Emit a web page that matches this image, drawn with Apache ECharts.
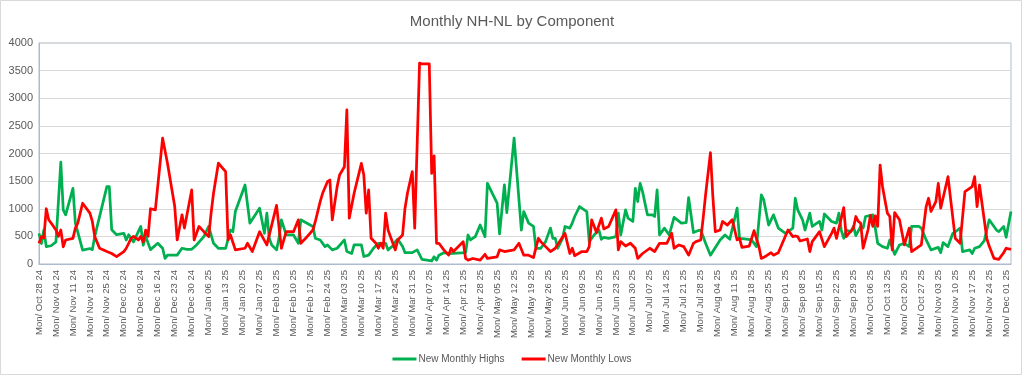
<!DOCTYPE html>
<html>
<head>
<meta charset="utf-8">
<script src="https://cdn.jsdelivr.net/npm/echarts@6/dist/echarts.min.js"></script>
<style>
html,body{margin:0;padding:0;background:#fff;}
#chart{width:1024px;height:376px;}
</style>
</head>
<body>
<div id="chart"></div>
<script>
// Calendar: every day from Mon Oct 28 2024 to Wed Dec 03 2025 (date axis, weekly Monday labels)
var startDate = [2024, 9, 28];
var dayCount = 402;
var yTicks = [0, 500, 1000, 1500, 2000, 2500, 3000, 3500, 4000];

// New Monthly Highs: day index (days since 2024-10-28) and value
var highDay = [0,1,2,3,5,7,9,10,11,14,15,18,21,22,23,28,29,30,32,35,36,37,39,42,43,44,46,49,51,52,53,57,59,61,63,65,68,70,72,74,77,79,80,81,85,87,91,93,94,95,96,98,99,100,102,105,107,108,110,113,114,116,118,119,121,123,126,127,129,130,133,134,136,138,140,143,144,146,147,148,150,151,154,156,158,160,162,163,164,165,167,169,176,177,178,180,182,184,185,189,190,192,193,196,199,200,202,204,205,207,209,211,212,213,214,216,217,219,220,221,223,226,227,229,231,232,233,235,238,239,240,242,243,245,246,247,248,249,251,253,254,255,256,258,260,262,265,267,268,270,272,273,275,277,281,283,285,288,289,291,294,296,298,299,301,303,305,307,308,311,312,313,315,316,318,319,322,323,324,327,329,330,331,332,333,335,336,337,339,340,341,344,345,346,348,350,351,353,355,357,359,360,363,364,366,368,371,372,373,375,377,379,380,381,384,385,386,388,390,392,395,396,398,399,401];
var highValue = [555,370,615,315,330,400,1842,980,890,1370,740,250,280,260,500,1400,1400,620,530,555,435,530,400,680,340,500,260,375,285,100,160,160,285,265,265,345,495,680,375,285,285,615,585,950,1430,740,1010,555,920,465,345,255,465,800,525,525,375,800,750,680,465,435,315,345,255,285,435,225,190,345,345,135,160,285,375,375,255,330,405,450,315,205,205,255,85,70,55,130,70,160,205,190,205,525,435,495,705,495,1460,1100,545,1430,930,2277,615,950,740,680,285,285,405,650,465,465,285,465,680,650,740,860,1040,950,405,525,615,447,483,465,495,920,525,980,830,770,1370,1130,1460,1310,890,890,860,1340,525,650,525,845,740,750,1200,570,605,615,375,160,435,525,447,1010,465,453,435,315,1250,1160,705,890,650,585,555,650,1190,980,800,615,920,680,770,615,905,770,740,920,605,465,615,585,680,513,680,650,860,890,650,375,315,285,435,175,345,375,315,680,680,650,435,255,300,205,387,315,555,615,650,225,255,190,285,315,423,800,615,585,680,483,950];

// New Monthly Lows: day index and value
var lowDay = [0,1,2,3,4,6,7,8,9,10,11,14,15,16,18,21,22,23,25,28,30,32,35,36,38,39,41,42,43,44,45,46,48,51,53,56,57,59,60,63,64,66,68,70,71,72,74,77,78,79,81,85,86,88,91,94,98,100,102,105,107,108,110,113,114,116,117,119,120,121,123,124,126,127,128,130,133,134,135,136,137,139,140,141,142,143,144,147,148,150,151,152,154,155,157,158,161,162,163,164,165,167,169,170,171,175,176,177,179,182,184,185,189,190,192,196,198,200,202,204,206,207,209,211,213,217,219,220,221,224,226,227,228,230,232,233,235,238,239,240,242,244,246,247,249,252,254,256,259,261,262,264,266,268,270,271,273,274,275,277,278,279,281,282,284,286,288,289,290,293,295,297,298,300,302,303,305,309,311,312,313,314,317,318,319,322,324,327,328,329,332,333,336,337,338,339,340,342,343,344,345,346,347,348,350,351,352,353,355,357,359,360,364,366,367,368,370,371,372,375,378,380,382,385,386,387,388,391,392,394,396,398,399,401];
var lowValue = [375,495,470,1000,800,680,615,500,615,310,435,465,650,740,1100,920,770,495,285,225,190,135,225,285,465,500,435,500,400,615,500,1000,980,2277,1824,1040,435,890,650,1340,435,680,585,495,920,1280,1824,1673,435,525,255,285,375,225,585,345,1060,285,585,585,800,375,465,615,770,1130,1280,1490,1520,800,1400,1610,1760,2790,830,1280,1820,1610,920,1340,465,375,285,375,285,920,615,255,435,525,1010,1280,1673,650,3636,3620,3624,1640,1957,375,375,255,160,285,225,405,100,70,100,70,175,100,130,255,225,255,375,160,160,115,465,405,315,225,285,555,190,285,150,225,225,315,800,570,830,635,680,980,255,405,325,375,285,100,190,285,225,375,375,555,285,345,315,160,375,405,435,830,1250,2017,1220,585,615,770,705,800,435,465,300,325,605,315,100,145,205,160,205,615,495,507,495,417,453,225,405,585,315,555,650,465,1020,495,650,860,770,740,285,615,880,680,870,680,1790,1400,920,860,255,930,800,345,650,225,345,1040,1190,950,1130,1460,1010,1580,465,375,1310,1400,1580,1040,1430,465,325,100,85,205,285,265];

var monthAbbr = ['Jan','Feb','Mar','Apr','May','Jun','Jul','Aug','Sep','Oct','Nov','Dec'];
var dowAbbr = ['Sun','Mon','Tue','Wed','Thu','Fri','Sat'];
function pad2(n){ return (n < 10 ? '0' : '') + n; }
var categories = [];
for (var i = 0; i < dayCount; i++) {
  var d = new Date(Date.UTC(startDate[0], startDate[1], startDate[2] + i));
  categories.push(dowAbbr[d.getUTCDay()] + '/ ' + monthAbbr[d.getUTCMonth()] + ' ' + pad2(d.getUTCDate()) + ' ' + pad2(d.getUTCFullYear() % 100));
}
function pairs(days, vals){
  var out = [];
  for (var k = 0; k < days.length; k++) out.push([categories[days[k]], vals[k]]);
  return out;
}

var chart = echarts.init(document.getElementById('chart'), null, {renderer: 'canvas'});
var font = 'Liberation Sans, Arial, sans-serif';
chart.setOption({
  animation: false,
  backgroundColor: '#ffffff',
  textStyle: {fontFamily: font},
  graphic: [{
    type: 'rect', silent: true,
    shape: {x: 0.5, y: 0.5, width: 1021, height: 374},
    style: {fill: 'none', stroke: '#d9d9d9', lineWidth: 1}
  }],
  title: {
    text: 'Monthly NH-NL by Component',
    left: 'center', top: 9,
    textStyle: {fontSize: 15, fontWeight: 'normal', color: '#595959', fontFamily: font}
  },
  legend: {
    top: 349, left: 'center',
    icon: 'rect', itemWidth: 24, itemHeight: 3, itemGap: 17,
    textStyle: {fontSize: 10, color: '#595959', fontFamily: font, padding: [0,0,0,-3]},
    data: ['New Monthly Highs', 'New Monthly Lows']
  },
  grid: {
    left: 39, right: 13, top: 43, height: 221,
    show: true, borderColor: '#aebbcd', borderWidth: 1, containLabel: false
  },
  xAxis: {
    type: 'category',
    data: categories,
    boundaryGap: false,
    axisLine: {show: true, lineStyle: {color: '#aebbcd', width: 1}},
    axisTick: {show: false},
    axisLabel: {interval: 6, rotate: 90, fontSize: 9.5, color: '#595959', margin: 6, fontFamily: font},
    splitLine: {show: false}
  },
  yAxis: {
    type: 'value',
    min: yTicks[0], max: yTicks[yTicks.length - 1], interval: 500,
    axisLine: {show: true, lineStyle: {color: '#aebbcd'}},
    axisTick: {show: false},
    axisLabel: {fontSize: 11, color: '#595959', margin: 6, fontFamily: font, formatter: function (v) { return String(v); }},
    splitLine: {show: true, lineStyle: {color: '#d9d9d9', width: 1}}
  },
  series: [
    {
      name: 'New Monthly Highs', type: 'line', showSymbol: false, symbol: 'none',
      data: pairs(highDay, highValue),
      itemStyle: {color: '#00b050'},
      lineStyle: {color: '#00b050', width: 2.75, join: 'round'}
    },
    {
      name: 'New Monthly Lows', type: 'line', showSymbol: false, symbol: 'none',
      data: pairs(lowDay, lowValue),
      itemStyle: {color: '#ff0000'},
      lineStyle: {color: '#ff0000', width: 2.75, join: 'round'}
    }
  ]
});
</script>
</body>
</html>
